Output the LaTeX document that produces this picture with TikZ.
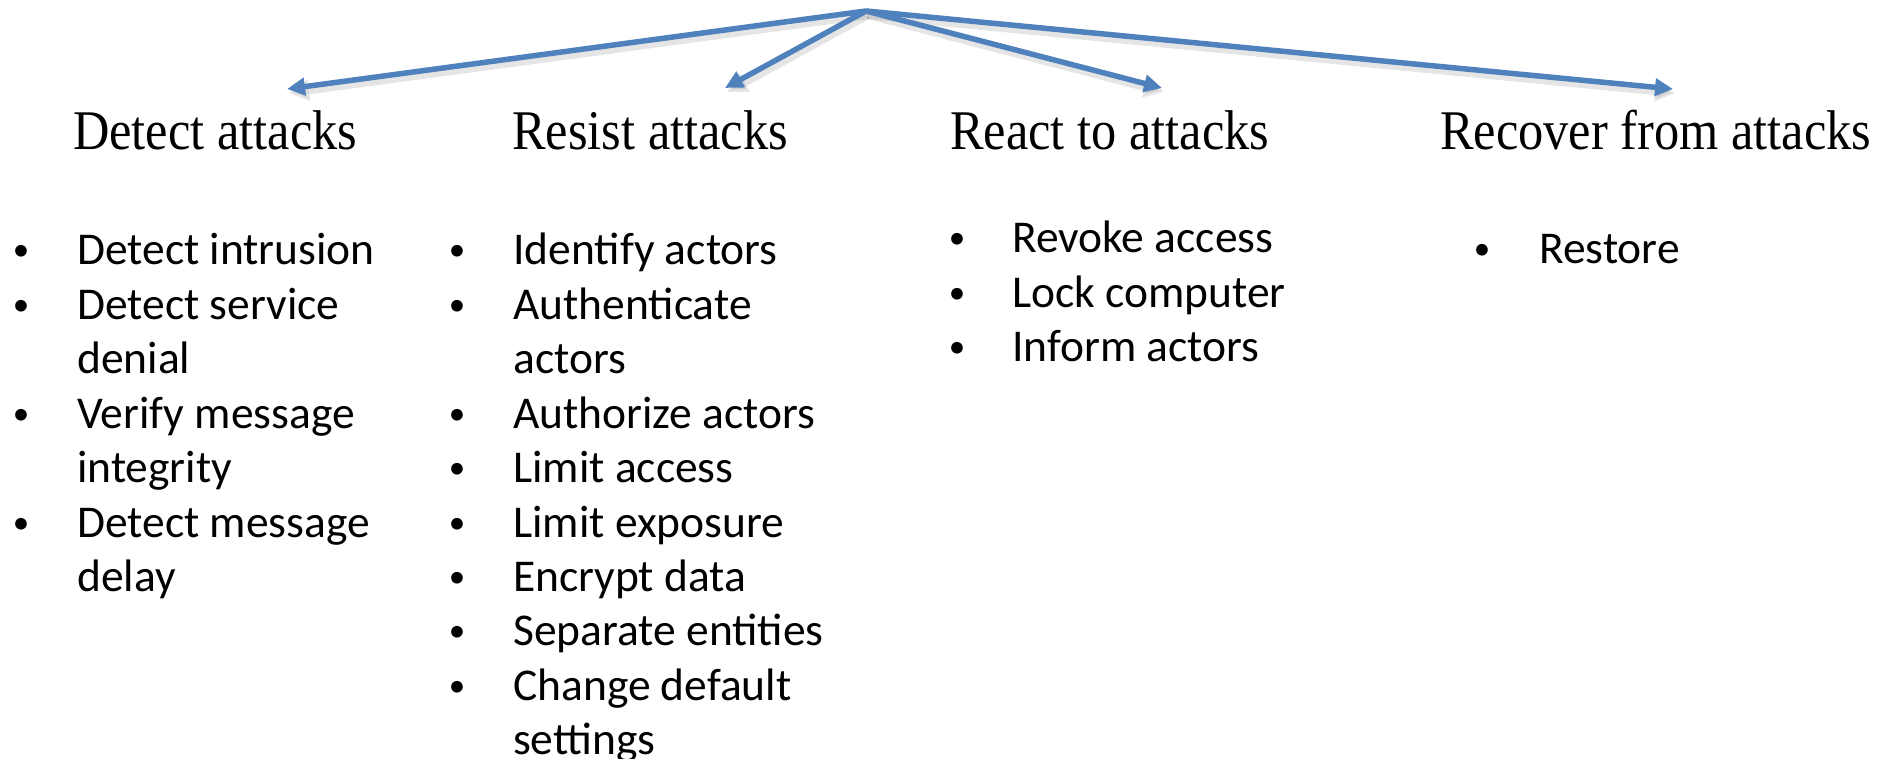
\documentclass[tikz,border=0pt]{standalone}
\usepackage{fontspec}
\setmainfont{Liberation Serif}
\newfontfamily\headfont[FakeStretch=0.90]{Liberation Serif}
\newfontfamily\bodyfont{Carlito}
\usetikzlibrary{arrows.meta}
\definecolor{arrowblue}{RGB}{79,129,189}
\tikzset{
  conn/.style={draw=arrowblue, line width=5.5pt, -{Triangle[length=18pt,width=17pt]}},
  shadowline/.style={draw=black, opacity=0.10, line width=8pt, -{Triangle[length=20pt,width=20pt]},
    transform canvas={shift={(2pt,-4pt)}}},
  heading/.style={inner sep=0pt, anchor=base west, font=\headfont\fontsize{56}{67}\selectfont},
  item/.style={inner sep=0pt, anchor=base west, font=\bodyfont\fontsize{45.5}{55}\selectfont},
  bul/.style={inner sep=0pt, anchor=base, font=\bodyfont\fontsize{33}{40}\selectfont},
}
\begin{document}
\begin{tikzpicture}[x=1pt, y=-1pt]
\useasboundingbox (0,0) rectangle (1894,759);
% apex and arrow tips
\coordinate (apex) at (866,11);
\coordinate (tD) at (287,89);
\coordinate (tS) at (725,88);
\coordinate (tR) at (1162,88);
\coordinate (tC) at (1673,89);
% shadows
\foreach \t in {tD,tS,tR,tC} \draw[shadowline] (apex) -- (\t);
% connectors
\foreach \t in {tD,tS,tR,tC} \draw[conn] (apex) -- (\t);
% headings
\node[heading] (hD) at (73,150) {Detect attacks};
\node[heading] (hS) at (512,150) {Resist attacks};
\node[heading] (hR) at (950,150) {React to attacks};
\node[heading] (hC) at (1440,150) {Recover from attacks};
% column 1
\foreach \txt/\b [count=\i] in {Detect intrusion/1, Detect service/1, denial/0, Verify message/1, integrity/0, Detect message/1, delay/0}{
  \node[item] (d\i) at (77,{265+54.4*(\i-1)}) {\txt};
  \ifnum\b=1 \node[bul] (db\i) at (21,{261+54.4*(\i-1)}) {•};\fi
}
% column 2
\foreach \txt/\b [count=\i] in {Identify actors/1, Authenticate/1, actors/0, Authorize actors/1, Limit access/1, Limit exposure/1, Encrypt data/1, Separate entities/1, Change default/1, settings/0}{
  \node[item] (s\i) at (513,{265+54.4*(\i-1)}) {\txt};
  \ifnum\b=1 \node[bul] (sb\i) at (457,{261+54.4*(\i-1)}) {•};\fi
}
% column 3
\foreach \txt [count=\i] in {Revoke access, Lock computer, Inform actors}{
  \node[item] (r\i) at (1012,{253+54.4*(\i-1)}) {\txt};
  \node[bul] (rb\i) at (957,{249+54.4*(\i-1)}) {•};
}
% column 4
\node[item] (c1) at (1539,263) {Restore};
\node[bul] (cb1) at (1482,259) {•};
\end{tikzpicture}
\end{document}
